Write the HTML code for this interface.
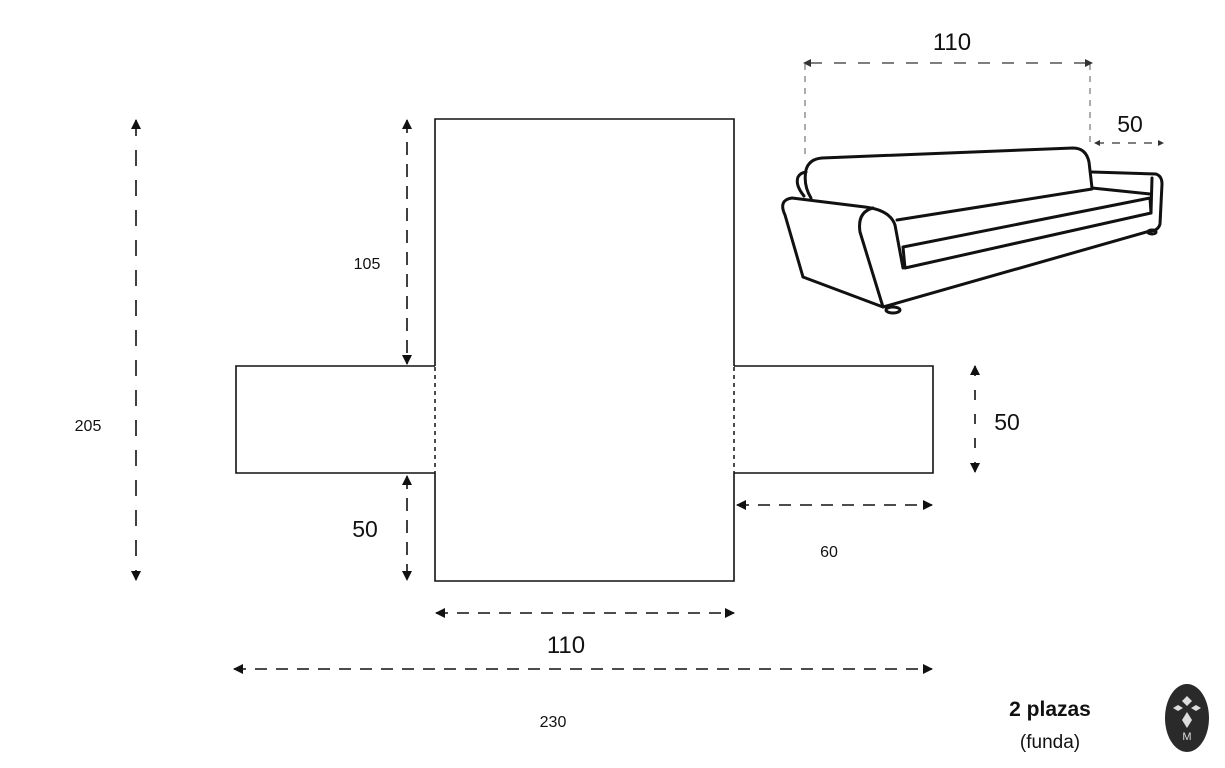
<!DOCTYPE html>
<html><head><meta charset="utf-8"><style>
html,body{margin:0;padding:0;background:#fff;width:1225px;height:768px;overflow:hidden}
text{font-family:"Liberation Sans",sans-serif;fill:#111}
</style></head><body>
<svg width="1225" height="768" viewBox="0 0 1225 768" xmlns="http://www.w3.org/2000/svg">
<defs>
<marker id="a" viewBox="0 0 10 10" refX="9" refY="5" markerWidth="10" markerHeight="10" markerUnits="userSpaceOnUse" orient="auto-start-reverse"><path d="M0,0 L10,5 L0,10 z" fill="#111"/></marker>
</defs>
<g fill="none" stroke="#111" stroke-width="1.6">
<path d="M435,366 V119 H734 V366 M734,473 V581 H435 V473"/>
<path d="M435,366 H236 V473 H435 M734,366 H933 V473 H734"/>
</g>
<g fill="none" stroke="#111" stroke-width="1.5" stroke-dasharray="4,4">
<line x1="435" y1="367" x2="435" y2="473"/>
<line x1="734" y1="367" x2="734" y2="473"/>
</g>
<g fill="none" stroke="#111" stroke-width="1.6" marker-start="url(#a)" marker-end="url(#a)">
<line x1="136" y1="120" x2="136" y2="580" stroke-dasharray="16,14"/>
<line x1="407" y1="120" x2="407" y2="364" stroke-dasharray="13,9"/>
<line x1="407" y1="476" x2="407" y2="580" stroke-dasharray="13,9"/>
<line x1="975" y1="366" x2="975" y2="472" stroke-dasharray="10,14"/>
<line x1="737" y1="505" x2="932" y2="505" stroke-dasharray="12,9"/>
<line x1="436" y1="613" x2="734" y2="613" stroke-dasharray="12,9"/>
<line x1="234" y1="669" x2="932" y2="669" stroke-dasharray="12,9"/>
</g>
<g fill="none" stroke="#888" stroke-width="1.4" stroke-dasharray="6,6">
<line x1="805" y1="64" x2="805" y2="158"/>
<line x1="1090" y1="64" x2="1090" y2="145"/>
<line x1="810" y1="63" x2="1087" y2="63" stroke="#555" stroke-dasharray="12,12"/>
<line x1="1096" y1="143" x2="1162" y2="143" stroke="#555" stroke-dasharray="8,8"/>
</g>
<path d="M803,63 l8,-4 v8z M1093,63 l-8,-4 v8z M1094,143 l6,-3 v6z M1164,143 l-6,-3 v6z" fill="#333"/>
<g fill="none" stroke="#111" stroke-width="3" stroke-linejoin="round" stroke-linecap="round">
<path d="M811,198 Q803,185 806,170 Q809,159 822,158 L1073,148 Q1086,148 1089,162 L1092,188"/>
<path d="M804,196 Q795,185 798,177 Q800,173 806,172"/>
<path d="M1092,172 L1156,174 Q1162,176 1162,184 L1160,224 Q1158,231 1150,231"/>
<path d="M1152,178 L1151,213"/>
<path d="M1092,188 L1150,194"/>
<path d="M897,220 L1092,189"/>
<path d="M903,247 L1150,198 L1151,213 L905,268 L903,247"/>
<path d="M803,277 L785,215 Q778,200 792,198 L865,207 Q890,210 895,225 L903,268"/>
<path d="M883,307 L860,232 Q857,212 873,208"/>
<path d="M803,277 L883,307 L1150,231"/>
<ellipse cx="893" cy="310" rx="7" ry="3"/>
<ellipse cx="1152" cy="232" rx="4" ry="2"/>
</g>
<ellipse cx="1187" cy="718" rx="22" ry="34" fill="#2a2a2a"/>
<path d="M1187,696 l5,5 -5,5 -5,-5z M1178,705 l5,3 -5,3 -5,-3z M1196,705 l5,3 -5,3 -5,-3z M1187,712 l5,8 -5,8 -5,-8z" fill="#ddd"/>
<text x="1187" y="740" font-size="11" text-anchor="middle" style="fill:#ddd">M</text>
<text x="952" y="50" font-size="24" text-anchor="middle">110</text>
<text x="1130" y="132" font-size="23" text-anchor="middle">50</text>
<text x="367" y="269" font-size="16" text-anchor="middle">105</text>
<text x="88" y="431" font-size="16" text-anchor="middle">205</text>
<text x="365" y="537" font-size="23" text-anchor="middle">50</text>
<text x="1007" y="430" font-size="23" text-anchor="middle">50</text>
<text x="829" y="557" font-size="16" text-anchor="middle">60</text>
<text x="566" y="653" font-size="24" text-anchor="middle">110</text>
<text x="553" y="727" font-size="16" text-anchor="middle">230</text>
<text x="1050" y="716" font-size="21" font-weight="bold" text-anchor="middle">2 plazas</text>
<text x="1050" y="748" font-size="19" text-anchor="middle">(funda)</text>
</svg>
</body></html>
